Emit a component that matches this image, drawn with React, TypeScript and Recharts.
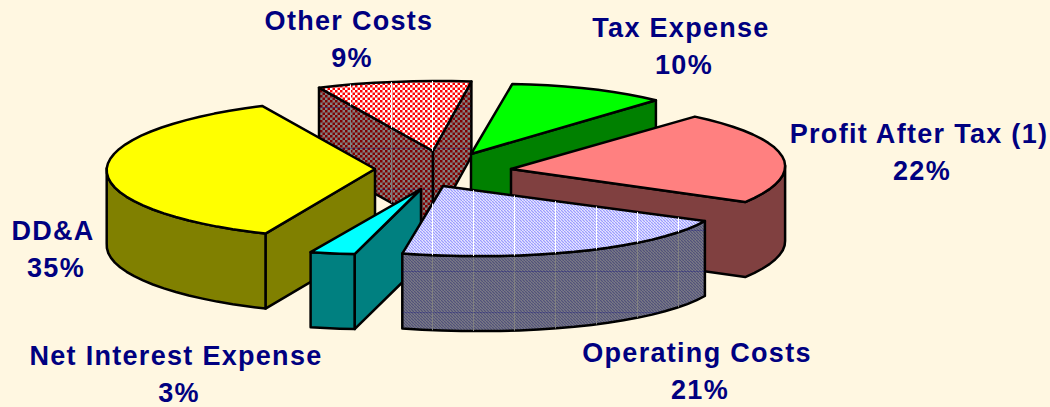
import { PieChart, Pie } from "recharts";

const categories = ["Other Costs", "Tax Expense", "Profit After Tax (1)", "Operating Costs", "Net Interest Expense", "DD&A"];
const shares = [9, 10, 22, 21, 3, 35];
const paintOrder = ["Other Costs", "Tax Expense", "Profit After Tax (1)", "DD&A", "Net Interest Expense", "Operating Costs"];

const rows = categories.map((name, i) => ({ name, value: shares[i] }));

const WIDTH = 1050;
const HEIGHT = 407;
const CX = 440;
const CY = 170;
const DEPTH = 75;
const NAVY = "#000080";

// how each wedge is pulled out of the pie and flattened on screen
const wedgeViews: Record<string, any> = {
  "Other Costs": { dx: -7, dy: -19, rx: 276, sx: 0, ry: 70, sy: -1, spread: 1 },
  "Tax Expense": { dx: 31, dy: -16, rx: 261, sx: 5, ry: 70, sy: -5, spread: 1 },
  "Profit After Tax (1)": { dx: 71, dy: -1, rx: 274, sx: -9, ry: 68, sy: -5, spread: 1 },
  "Operating Costs": { dx: 3, dy: 16, rx: 279, sx: -52, ry: 70, sy: -4, spread: 1 },
  "Net Interest Expense": { dx: -19, dy: 19, rx: 250, sx: -15, ry: 63, sy: -17, spread: 1 },
  "DD&A": { dx: -65, dy: -1, rx: 268, sx: -14, ry: 70, sy: -5, spread: 1.04 },
};

const wedgeFills: Record<string, { top: string; wall: string }> = {
  "Other Costs": { top: "url(#checkTop)", wall: "url(#checkWall)" },
  "Tax Expense": { top: "#00ff00", wall: "#008000" },
  "Profit After Tax (1)": { top: "#ff8080", wall: "#804040" },
  "Operating Costs": { top: "url(#hatchTop)", wall: "url(#hatchWall)" },
  "Net Interest Expense": { top: "#00ffff", wall: "#008080" },
  "DD&A": { top: "#ffff00", wall: "#808000" },
};

const labelSpots: Record<string, { x: number; y: number }> = {
  "Other Costs": { x: 349, y: 30 },
  "Tax Expense": { x: 681, y: 37 },
  "Profit After Tax (1)": { x: 919, y: 143 },
  "Operating Costs": { x: 697, y: 362 },
  "Net Interest Expense": { x: 176, y: 365 },
  "DD&A": { x: 53, y: 240 },
};

const toPath = (pts: number[][]) =>
  pts.map((p, i) => `${i ? "L" : "M"}${p[0].toFixed(1)} ${p[1].toFixed(1)}`).join(" ") + " Z";

const sink = (pts: number[][]) => pts.map((p) => [p[0], p[1] + DEPTH]);

function Wedge(props: any) {
  const { cx, cy, startAngle, endAngle, name } = props;
  const view = wedgeViews[name];
  const fills = wedgeFills[name];
  const apex = [cx + view.dx, cy + view.dy];
  const mid = (startAngle + endAngle) / 2;
  const half = ((startAngle - endAngle) / 2) * view.spread;

  const rim: number[][] = [];
  const steps = Math.max(2, Math.round((half * 2) / 4));
  for (let i = 0; i <= steps; i++) {
    const a = ((mid + half - (2 * half * i) / steps) * Math.PI) / 180;
    rim.push([
      apex[0] + view.rx * Math.cos(a) + view.sx * Math.sin(a),
      apex[1] - view.ry * Math.sin(a) + view.sy * Math.cos(a),
    ]);
  }

  // only faces whose edge runs leftwards on screen look towards the viewer
  const outline = [apex, ...rim, apex];
  const walls: number[][][] = [];
  let run: number[][] = [];
  for (let i = 0; i < outline.length - 1; i++) {
    const radial = i === 0 || i === outline.length - 2;
    if (outline[i + 1][0] < outline[i][0]) {
      if (!run.length) run.push(outline[i]);
      run.push(outline[i + 1]);
      if (radial) {
        walls.push(run);
        run = [];
      }
    } else if (run.length) {
      walls.push(run);
      run = [];
    }
  }
  if (run.length) walls.push(run);

  const isPatterned = fills.top.startsWith("url");
  return (
    <g stroke="#000" strokeWidth={2.5} strokeLinejoin="round">
      {walls.map((w, i) => {
        const d = toPath([...w, ...sink(w).reverse()]);
        return (
          <g key={i}>
            <path d={d} fill={fills.wall} />
            {isPatterned && <path d={d} fill="url(#seamWall)" stroke="none" />}
          </g>
        );
      })}
      <path d={toPath([apex, ...rim])} fill={fills.top} />
      {isPatterned && <path d={toPath([apex, ...rim])} fill="url(#seamTop)" stroke="none" />}
    </g>
  );
}

function SliceLabel(props: any) {
  const spot = labelSpots[props.name];
  return (
    <text
      x={spot.x}
      y={spot.y}
      textAnchor="middle"
      fill={NAVY}
      fontFamily="Liberation Sans"
      fontWeight="bold"
      fontSize={27}
      letterSpacing={1.3}
    >
      <tspan x={spot.x}>{props.name}</tspan>
      <tspan x={spot.x + 3} dy={36.5}>{props.value}%</tspan>
    </text>
  );
}

export default function App() {
  return (
    <div style={{ position: "fixed", left: 0, top: 0, width: WIDTH, height: HEIGHT, background: "#fff7e1" }}>
      <PieChart width={WIDTH} height={HEIGHT} margin={{ top: 0, right: 0, bottom: 0, left: 0 }}>
        <defs>
          <pattern id="checkTop" width={5} height={5} patternUnits="userSpaceOnUse">
            <rect width={5} height={5} fill="#ffffff" />
            <rect width={2.5} height={2.5} fill="#ff0000" />
            <rect x={2.5} y={2.5} width={2.5} height={2.5} fill="#ff0000" />
          </pattern>
          <pattern id="checkWall" width={5} height={5} patternUnits="userSpaceOnUse">
            <rect width={5} height={5} fill="#808080" />
            <rect width={2.5} height={2.5} fill="#800000" />
            <rect x={2.5} y={2.5} width={2.5} height={2.5} fill="#800000" />
          </pattern>
          <pattern id="hatchTop" width={3} height={3} patternUnits="userSpaceOnUse">
            <rect width={3} height={3} fill="#e6e6ff" />
            <path d="M0 0L3 3" stroke="#9999ff" strokeWidth={1.2} />
          </pattern>
          <pattern id="hatchWall" width={3} height={3} patternUnits="userSpaceOnUse">
            <rect width={3} height={3} fill="#7a7a85" />
            <path d="M0 0L3 3" stroke="#50507a" strokeWidth={1.2} />
          </pattern>
          <pattern id="seamTop" x={22} y={0} width={41} height={41} patternUnits="userSpaceOnUse">
            <rect x={0} width={1} height={41} fill="#ffffff" />
          </pattern>
          <pattern id="seamWall" x={22} y={25} width={41} height={41} patternUnits="userSpaceOnUse">
            <rect x={0} width={1} height={41} fill="#808080" />
            <rect y={0} width={41} height={1} fill="#000080" opacity={0.25} />
          </pattern>
        </defs>
        {paintOrder.map((layer) => (
          <Pie
            key={layer}
            data={rows}
            dataKey="value"
            nameKey="name"
            cx={CX}
            cy={CY}
            outerRadius={270}
            startAngle={114.4}
            endAngle={-245.6}
            stroke="none"
            isAnimationActive={false}
            shape={(p: any) => (p.name === layer ? <Wedge {...p} /> : <g />)}
            label={layer === paintOrder[paintOrder.length - 1] ? SliceLabel : false}
            labelLine={false}
          />
        ))}
      </PieChart>
    </div>
  );
}
